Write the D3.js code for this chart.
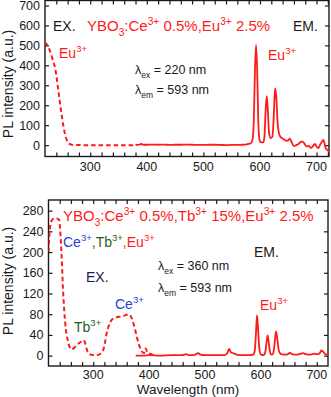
<!DOCTYPE html>
<html><head><meta charset="utf-8">
<script src="https://cdn.jsdelivr.net/npm/d3@7"></script>
<style>
html,body{margin:0;padding:0;background:#fff;}
svg{display:block;font-family:Arial,"Liberation Sans",sans-serif;}
</style></head>
<body><svg id="c" width="331" height="397"></svg>
<script>
// ---- data ----
const xTickLabels = [300, 400, 500, 600, 700];
const topYTickLabels = [0, 100, 200, 300, 400, 500, 600, 700];
const botYTickLabels = [0, 40, 80, 120, 160, 200, 240, 280];

// top panel: YBO3:Ce 0.5%, Eu 2.5%
const topExcitation = [[220,516],[224,500],[228,478],[232,445],[235,415],[238,385],[241,330],[244,265],[247,200],[250,140],[253,88],[256,48],[259,22],[262,9],[266,3],[270,1],[290,0],[320,0],[350,0],[380,0]];
const topEmission = [[380,2],[385,1],[388,3],[390,7],[392,3],[400,2],[410,3],[420,2],[430,3],[440,1],[450,2],[460,2],[470,3],[480,2],[490,1],[500,1],[510,2],[520,2],[530,1],[540,0],[550,1],[560,1],[570,2],[575,3],[580,6],[584,10],[587,30],[589,120],[591,360],[593,502],[595,380],[597,120],[599,30],[602,14],[606,14],[608,45],[610,175],[612,245],[614,170],[616,60],[619,35],[622,42],[624,125],[626,255],[627,285],[629,235],[631,120],[634,55],[638,36],[642,30],[646,22],[650,24],[653,32],[656,15],[660,-5],[664,0],[668,6],[672,16],[675,18],[678,10],[682,-6],[686,-4],[690,-14],[694,-4],[697,6],[700,-8],[703,-15],[706,0],[709,15],[712,26],[714,10],[716,-14],[719,-24],[722,-33]];

// bottom panel: YBO3:Ce 0.5%, Tb 15%, Eu 2.5%
const botExcitation = [[220,200],[222,240],[225,259],[230,265],[235,265],[239,262],[241,240],[243.5,191],[246,127],[248,90],[250,62],[255,27],[258,16],[261,12],[266,15],[271,21],[277,26],[282,30],[285,26],[288,14],[291,5],[296,2],[300,1],[306,1],[312,3],[315,6],[318,11],[321,25],[324,43],[328,58],[333,69],[339,73],[346,75],[354,77],[360,79],[363,80],[366,78],[369,72],[372,62],[375,50],[378,36],[381,24],[384,15],[387,8],[391,5],[394,14],[397,5],[404,3],[410,0]];
const botEmission = [[376,0],[390,0],[400,1],[420,0],[440,1],[460,1],[466,3],[470,1],[480,1],[488,5],[492,2],[500,1],[520,1],[535,1],[540,5],[543,13],[546,7],[549,5],[553,4],[556,2],[565,1],[580,1],[586,2],[589,10],[591,40],[593,78],[595,50],[597,15],[600,2],[605,1],[608,8],[610,25],[612,39],[614,25],[617,4],[620,2],[623,10],[625,30],[627,47],[629,35],[632,10],[636,3],[645,2],[650,4],[652,6],[655,3],[665,2],[672,4],[675,5],[680,3],[690,2],[695,4],[698,3],[703,3],[706,6],[708,10],[711,8],[715,3],[718,2],[720,2]];

const RED = "#ff1a1a", BLUE = "#2a3fd0", GREEN = "#1f5e1f", NAVY = "#1a1a50", INK = "#1a1a1a";

const svg = d3.select("#c");

function panel(cfg) {
  const x = d3.scaleLinear().domain(cfg.xDomain).range(cfg.xRange);
  const y = d3.scaleLinear().domain(cfg.yDomain).range(cfg.yRange);
  const g = svg.append("g");
  const [x0, x1] = cfg.xRange, [y1, y0] = cfg.yRange;
  const clipId = "clip" + cfg.id;
  svg.append("clipPath").attr("id", clipId).append("rect")
    .attr("x", x0).attr("y", y0).attr("width", x1 - x0).attr("height", y1 - y0);

  const minor = d3.range(cfg.xDomain[0], cfg.xDomain[1] + 0.1, 20).filter(v => v > cfg.xDomain[0] && v < cfg.xDomain[1]);
  const gb = g.append("g").attr("transform", `translate(0,${y1})`)
    .call(d3.axisTop(x).tickValues(minor).tickSize(4).tickFormat(""));
  const gt = g.append("g").attr("transform", `translate(0,${y0})`)
    .call(d3.axisBottom(x).tickValues(minor).tickSize(4).tickFormat(""));
  const gl = g.append("g").attr("transform", `translate(${x0},0)`)
    .call(d3.axisRight(y).tickValues(cfg.yTicks).tickSize(4).tickFormat(""));
  const gr = g.append("g").attr("transform", `translate(${x1},0)`)
    .call(d3.axisLeft(y).tickValues(cfg.yTicks).tickSize(4).tickFormat(""));
  [gb, gt, gl, gr].forEach(a => { a.select(".domain").remove(); a.selectAll("line").attr("stroke", INK).attr("stroke-width", 1.2); });

  g.selectAll(".xl").data(xTickLabels).join("text")
    .attr("x", d => x(d)).attr("y", y1 + cfg.xLabelOffset).attr("text-anchor", "middle")
    .attr("font-size", 12.5).attr("fill", INK).text(d => d);
  g.selectAll(".yl").data(cfg.yTicks).join("text")
    .attr("x", x0 - 5).attr("y", d => y(d) + 4.5).attr("text-anchor", "end")
    .attr("font-size", 12.5).attr("fill", INK).text(d => d);

  g.append("rect").attr("x", x0).attr("y", y0).attr("width", x1 - x0).attr("height", y1 - y0)
    .attr("fill", "none").attr("stroke", INK).attr("stroke-width", 1.4);

  const line = d3.line().x(d => x(d[0])).y(d => y(d[1])).curve(d3.curveMonotoneX);
  const data = g.append("g").attr("clip-path", `url(#${clipId})`);
  data.append("path").datum(cfg.em).attr("d", line).attr("fill", "none")
    .attr("stroke", RED).attr("stroke-width", 1.8).attr("stroke-linejoin", "round");
  data.append("path").datum(cfg.ex).attr("d", line).attr("fill", "none")
    .attr("stroke", RED).attr("stroke-width", 2).attr("stroke-dasharray", "4.5,3");

  g.append("text").attr("transform", `translate(${cfg.yLabelX},${cfg.yLabelY}) rotate(-90)`)
    .attr("text-anchor", "middle").attr("font-size", 14).attr("fill", INK)
    .text("PL intensity (a.u.)");
  return { g, x, y };
}

function rich(g, xp, yp, parts, size, anchor) {
  const t = g.append("text").attr("x", xp).attr("y", yp).attr("font-size", size)
    .attr("text-anchor", anchor || "start");
  let prev = "n";
  const offOf = m => m === "sup" ? -size * 0.4 : m === "sub" ? size * 0.3 : 0;
  parts.forEach(p => {
    const [txt, col, mode] = p;
    const m = mode || "n";
    const s = t.append("tspan").attr("fill", col).text(txt);
    const dy = offOf(m) - offOf(prev);
    if (dy !== 0) s.attr("dy", dy);
    if (m !== "n") s.attr("font-size", size * 0.68);
    prev = m;
  });
  return t;
}

const topPanel = panel({ id: "t", xDomain: [220, 722], xRange: [45, 329], yDomain: [-57, 725], yRange: [156.5, 0.5],
  yTicks: topYTickLabels, ex: topExcitation, em: topEmission, yLabelX: 13, yLabelY: 84, xLabelOffset: 14 });
const botPanel = panel({ id: "b", xDomain: [220, 720], xRange: [48.5, 328], yDomain: [-20, 300.5], yRange: [366, 200],
  yTicks: botYTickLabels, ex: botExcitation, em: botEmission, yLabelX: 13, yLabelY: 281, xLabelOffset: 12.5 });

const tg = topPanel.g;
rich(tg, 53, 31, [["EX.", INK]], 14);
rich(tg, 293, 31, [["EM.", INK]], 14);
rich(tg, 87, 31, [["YBO", RED], ["3", RED, "sub"], [":Ce", RED], ["3+", RED, "sup"], [" 0.5%,Eu", RED], ["3+", RED, "sup"], [" 2.5%", RED]], 15);
rich(tg, 59, 58, [["Eu", RED], ["3+", RED, "sup"]], 14);
rich(tg, 268, 60, [["Eu", RED], ["3+", RED, "sup"]], 14);
rich(tg, 135, 74, [["λ", INK], ["ex", INK, "sub"], [" = 220 nm", INK]], 12.5);
rich(tg, 135, 94, [["λ", INK], ["em", INK, "sub"], [" = 593 nm", INK]], 12.5);

const bg = botPanel.g;
rich(bg, 63, 221, [["YBO", RED], ["3", RED, "sub"], [":Ce", RED], ["3+", RED, "sup"], [" 0.5%,Tb", RED], ["3+", RED, "sup"], [" 15%,Eu", RED], ["3+", RED, "sup"], [" 2.5%", RED]], 15);
rich(bg, 63, 247, [["Ce", BLUE], ["3+", BLUE, "sup"], [",Tb", GREEN], ["3+", GREEN, "sup"], [",Eu", RED], ["3+", RED, "sup"]], 14);
rich(bg, 86, 282, [["EX.", NAVY]], 14);
rich(bg, 254, 257, [["EM.", INK]], 14);
rich(bg, 158, 270, [["λ", INK], ["ex", INK, "sub"], [" = 360 nm", INK]], 12.5);
rich(bg, 158, 292, [["λ", INK], ["em", INK, "sub"], [" = 593 nm", INK]], 12.5);
rich(bg, 115, 309, [["Ce", BLUE], ["3+", BLUE, "sup"]], 14);
rich(bg, 74, 332, [["Tb", GREEN], ["3+", GREEN, "sup"]], 14);
rich(bg, 260, 310, [["Eu", RED], ["3+", RED, "sup"]], 14);
bg.append("text").attr("x", 188).attr("y", 394).attr("text-anchor", "middle")
  .attr("font-size", 13.5).attr("fill", INK).text("Wavelength (nm)");
</script></body></html>
